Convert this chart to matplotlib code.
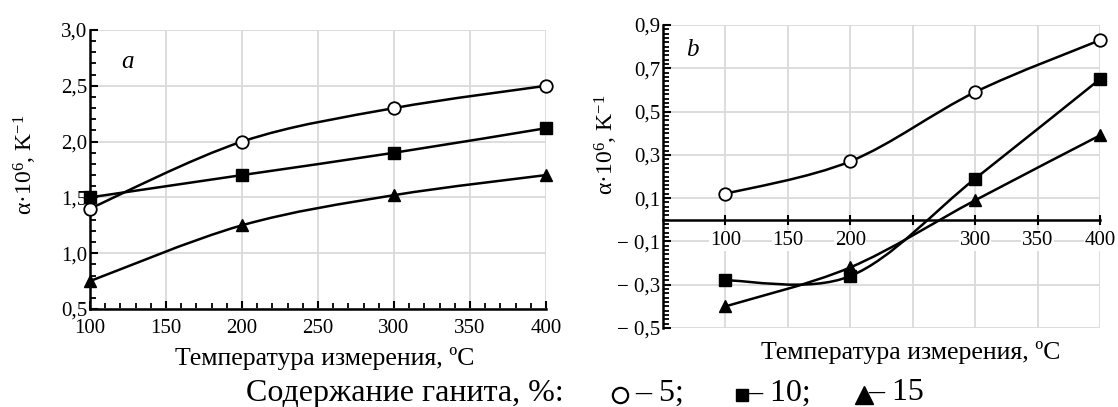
import numpy as np
import matplotlib
matplotlib.use('Agg')
import matplotlib.pyplot as plt
from matplotlib.path import Path
from matplotlib.patches import PathPatch
from matplotlib.lines import Line2D
from matplotlib.ticker import MultipleLocator

plt.rcParams['font.family'] = ['Liberation Serif', 'DejaVu Serif']
plt.rcParams['mathtext.fontset'] = 'custom'
plt.rcParams['mathtext.rm'] = 'Liberation Serif'
plt.rcParams['mathtext.it'] = 'Liberation Serif:italic'

# ---- data ----
temps = [100, 200, 300, 400]
a_5 = [1.40, 2.00, 2.30, 2.50]
a_10 = [1.50, 1.70, 1.90, 2.12]
a_15 = [0.75, 1.25, 1.52, 1.70]
b_5 = [0.12, 0.27, 0.59, 0.83]
b_10 = [-0.28, -0.26, 0.19, 0.65]
b_15 = [-0.40, -0.22, 0.09, 0.39]

x_ticks = [100, 150, 200, 250, 300, 350, 400]
x_ticklabels = ['100', '150', '200', '250', '300', '350', '400']
b_xticklabels = ['100', '150', '200', '', '300', '350', '400']
a_yticks = [0.5, 1.0, 1.5, 2.0, 2.5, 3.0]
a_yticklabels = ['0,5', '1,0', '1,5', '2,0', '2,5', '3,0']
b_yticks = [-0.5, -0.3, -0.1, 0.1, 0.3, 0.5, 0.7, 0.9]
b_yticklabels = ['\u2212 0,5', '\u2212 0,3', '\u2212 0,1', '0,1', '0,3', '0,5', '0,7', '0,9']

xlabel_text = 'Температура измерения, ºC'
ylabel_text = 'α·10$^{6}$, K$^{-1}$'
legend_title = 'Содержание ганита, %:'
legend_labels = ['– 5;', '– 10;', '– 15']

W, H = 1118, 407
fig = plt.figure(figsize=(W / 100, H / 100), dpi=100)

grid_col = '#dadada'
LW = 1.8
TICK_FS = 15


def smooth_line(ax, x, y):
    x = np.asarray(x, float)
    y = np.asarray(y, float)
    P = np.column_stack([x, y])
    ext = np.vstack([P[0], P, P[-1]])
    verts = [P[0]]
    codes = [Path.MOVETO]
    for i in range(len(P) - 1):
        p0, p1, p2, p3 = ext[i], ext[i + 1], ext[i + 2], ext[i + 3]
        c1 = p1 + (p2 - p0) / 6.0
        c2 = p2 - (p3 - p1) / 6.0
        verts += [c1, c2, p2]
        codes += [Path.CURVE4] * 3
    patch = PathPatch(Path(verts, codes), fill=False, lw=LW, edgecolor='black',
                      transform=ax.transData, clip_on=False, zorder=3)
    ax.add_patch(patch)


def draw_series(ax, x, y, kind):
    smooth_line(ax, x, y)
    if kind == 'o':
        ax.plot(x, y, ls='none', marker='o', ms=9, mfc='white', mec='black',
                mew=1.3, clip_on=False, zorder=4)
    elif kind == 's':
        ax.plot(x, y, ls='none', marker='s', ms=8.5, mfc='black', mec='black',
                clip_on=False, zorder=4)
    else:
        ax.plot(x, y, ls='none', marker='^', ms=8, mfc='black', mec='black',
                clip_on=False, zorder=4)


# ---- panel a ----
axa = fig.add_axes([90 / W, 1 - 309 / H, (546 - 90) / W, (309 - 30) / H])
axa.set_xlim(100, 400)
axa.set_ylim(0.5, 3.0)
draw_series(axa, temps, a_5, 'o')
draw_series(axa, temps, a_10, 's')
draw_series(axa, temps, a_15, '^')
axa.set_xticks(x_ticks)
axa.set_xticklabels(x_ticklabels)
axa.set_yticks(a_yticks)
axa.set_yticklabels(a_yticklabels)
axa.xaxis.set_minor_locator(MultipleLocator(10))
axa.yaxis.set_minor_locator(MultipleLocator(0.1))
axa.grid(True, which='major', color=grid_col, lw=1.3, zorder=0)
for s in ['top', 'right']:
    axa.spines[s].set_visible(False)
for s in ['left', 'bottom']:
    axa.spines[s].set_linewidth(1.8)
axa.tick_params(which='major', direction='in', length=6, width=1.5,
                labelsize=TICK_FS, pad=7)
axa.tick_params(which='minor', direction='in', length=4, width=1.3)
axa.tick_params(axis='y', pad=2)
axa.text(0.083, 0.885, 'a', transform=axa.transAxes, fontsize=18,
         style='italic', ha='center', va='center')

# ---- panel b ----
axb = fig.add_axes([663 / W, 1 - 328 / H, (1100 - 663) / W, (328 - 25) / H])
axb.set_xlim(50, 400)
axb.set_ylim(-0.5, 0.9)
draw_series(axb, temps, b_5, 'o')
draw_series(axb, temps, b_10, 's')
draw_series(axb, temps, b_15, '^')
axb.set_xticks(x_ticks)
axb.set_xticklabels([''] * len(x_ticks))
axb.set_yticks(b_yticks)
axb.set_yticklabels(b_yticklabels)
axb.yaxis.set_minor_locator(MultipleLocator(0.02))
axb.grid(True, which='major', color=grid_col, lw=1.3, zorder=0)
axb.set_axisbelow(True)
for s in ['top', 'right']:
    axb.spines[s].set_visible(False)
axb.spines['bottom'].set_position(('data', 0))
axb.spines['bottom'].set_linewidth(1.8)
axb.spines['left'].set_linewidth(1.8)
axb.tick_params(axis='x', which='major', direction='inout', length=7,
                width=1.5, labelsize=TICK_FS, pad=4)
axb.tick_params(axis='y', which='major', direction='in', length=6,
                width=1.5, labelsize=TICK_FS, pad=2)
axb.tick_params(axis='y', which='minor', direction='in', length=4, width=1.3)
# x tick labels of panel b sit inside the plot, on a white background,
# under the curves
for xv, lab in zip(x_ticks, b_xticklabels):
    if lab:
        axb.annotate(lab, xy=(xv, 0), xytext=(0, -8), textcoords='offset points',
                     ha='center', va='top', fontsize=TICK_FS, zorder=2,
                     annotation_clip=False,
                     bbox=dict(facecolor='white', edgecolor='none', pad=0.5))
axb.text(0.066, 0.917, 'b', transform=axb.transAxes, fontsize=18,
         style='italic', ha='center', va='center')

# ---- axis labels ----
fig.text(25 / W, 1 - 165 / H, ylabel_text, rotation=90, ha='center',
         va='center', fontsize=17)
fig.text(606 / W, 1 - 145 / H, ylabel_text, rotation=90, ha='center',
         va='center', fontsize=17)
fig.text(325 / W, 1 - 358 / H, xlabel_text, ha='center', va='center',
         fontsize=18.5)
fig.text(911 / W, 1 - 352 / H, xlabel_text, ha='center', va='center',
         fontsize=18.5)

# ---- legend line ----
ly = 1 - 393 / H
fig.text(246 / W, ly, legend_title, ha='left', va='center', fontsize=23)
fig.add_artist(Line2D([620 / W], [ly - 0.004], transform=fig.transFigure,
                      marker='o', ms=11, mfc='white', mec='black', mew=1.6))
fig.text(635 / W, ly, legend_labels[0], ha='left', va='center', fontsize=23)
fig.add_artist(Line2D([742 / W], [ly - 0.004], transform=fig.transFigure,
                      marker='s', ms=8, mfc='black', mec='black'))
fig.text(746 / W, ly, legend_labels[1], ha='left', va='center', fontsize=23)
fig.add_artist(Line2D([864 / W], [ly - 0.004], transform=fig.transFigure,
                      marker='^', ms=13, mfc='black', mec='black'))
fig.text(868 / W, ly, legend_labels[2], ha='left', va='center', fontsize=23)

fig.savefig('out.png', dpi=100)
